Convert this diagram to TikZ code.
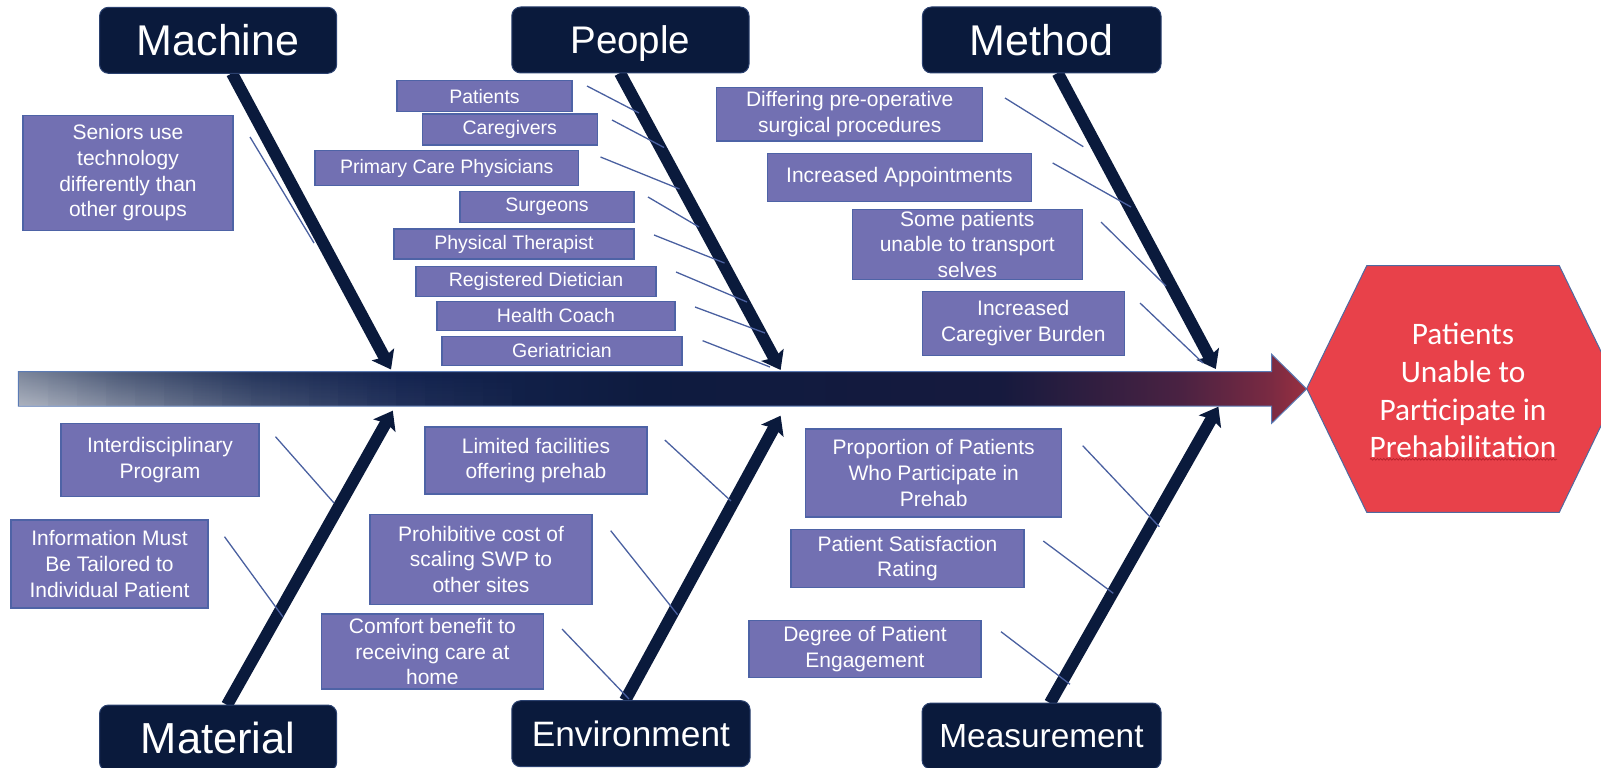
\documentclass[tikz,border=0pt]{standalone}
\usepackage{fontspec}
\setmainfont{Liberation Sans}
\newfontfamily\effectfont{Carlito}
\usetikzlibrary{arrows.meta,fadings,decorations.pathmorphing}

\definecolor{catnavy}{HTML}{0A1A3C}
\definecolor{catedge}{HTML}{2B416F}
\definecolor{causefill}{HTML}{7270B2}
\definecolor{causeedge}{HTML}{4E63A6}
\definecolor{twigblue}{HTML}{4A60A0}
\definecolor{effectred}{HTML}{E8414A}
\definecolor{effectedge}{HTML}{4F6AA0}
\definecolor{squiggle}{HTML}{B8222C}
\definecolor{spineedge}{HTML}{5B7BB5}
% spine colours, left to right
\definecolor{spA}{HTML}{7D879B}
\definecolor{spB}{HTML}{4D5A78}
\definecolor{spC}{HTML}{26365C}
\definecolor{spD}{HTML}{142450}
\definecolor{spE}{HTML}{0E1B3F}
\definecolor{spF}{HTML}{161A3E}
\definecolor{spG}{HTML}{4A2242}
\definecolor{spH}{HTML}{7A2A42}
\definecolor{spI}{HTML}{9A3040}

% the bounding box of a shaded path is mapped onto 25bp..75bp
\pgfdeclarehorizontalshading{spineshade}{100bp}{%
  color(0bp)=(spA); color(25bp)=(spA); color(28.9bp)=(spB);
  color(34bp)=(spC); color(39.8bp)=(spD); color(49.5bp)=(spE);
  color(63.1bp)=(spF); color(70.1bp)=(spG); color(73.6bp)=(spH);
  color(75bp)=(spI); color(100bp)=(spI)}

\begin{document}
\begin{tikzpicture}[x=1pt,y=-1pt,
  catbox/.style={rectangle, rounded corners=9pt, fill=catnavy, draw=catedge,
    line width=1pt, text=white, inner sep=0pt},
  causebox/.style={rectangle, fill=causefill, draw=causeedge, line width=1.1pt,
    text=white, align=center, inner sep=0pt,
    font=\fontsize{21}{25.7}\selectfont},
  peoplebox/.style={causebox, font=\fontsize{19.5}{24}\selectfont},
  catarrow/.style={draw=catnavy, line width=12pt,
    -{Stealth[length=17pt,width=25pt,inset=3pt]}},
  twig/.style={draw=twigblue, line width=1.3pt},
]
\clip (0,0) rectangle (1601,768);

% ---- main spine (shaded arrow into the effect) ----
\shadedraw[shading=spineshade, draw=spineedge, line width=1pt]
  (18.4,371.7) -- (1271.7,371.7) -- (1271.7,354.3) -- (1306.7,389)
  -- (1271.7,423.3) -- (1271.7,406.2) -- (18.4,406.2) -- cycle;
% lighter upper half towards the tail
\foreach \xa/\op in {18.9/0.36, 47.9/0.32, 76.9/0.29, 105.9/0.26, 134.9/0.23,
    163.9/0.2, 192.9/0.18, 221.9/0.16, 250.9/0.14, 279.9/0.12, 308.9/0.1,
    337.9/0.085, 366.9/0.07, 395.9/0.055, 424.9/0.04, 453.9/0.03, 482.9/0.02}
  \fill[white, fill opacity=\op, path fading=north] (\xa,372.2) rectangle ++(29,33.5);

% ---- category bones ----
\coordinate (machineS) at (232,73.3);   \coordinate (machineT) at (391,369.5);
\coordinate (peopleS) at (620,73);      \coordinate (peopleT) at (780.6,370);
\coordinate (methodS) at (1057.7,73);   \coordinate (methodT) at (1215.8,369);
\coordinate (materialS) at (227,705);   \coordinate (materialT) at (392.8,410.7);
\coordinate (environmentS) at (625,700.7); \coordinate (environmentT) at (780.6,415.7);
\coordinate (measurementS) at (1050,703);  \coordinate (measurementT) at (1218.4,406.7);
\foreach \b in {machine,people,method,material,environment,measurement}
  \draw[catarrow] (\b S) -- (\b T);

% ---- small bones for each cause ----
\foreach \n/\ax/\ay/\bx/\by in {
  seniors/250/137/314/243,
  patients/587/86/639/113,
  caregivers/612/120/664/147.5,
  pcp/600.5/157/679.5/189,
  surgeons/648/197/699/227,
  pt/654/235/724.5/263,
  rd/676/272/747/302,
  hc/695/307/765/333,
  ger/702.6/340.7/770/367,
  differing/1005/98/1083.3/146.7,
  appts/1052.7/163/1131/207,
  transport/1101/222/1166/286,
  burden/1140/303/1203/363,
  interdisc/275.5/436.7/334/503,
  info/224.5/536.7/283/617,
  limited/664.8/440/731/501,
  cost/610.7/530.7/677.6/614.7,
  comfort/562/629/629/699,
  proportion/1082.7/445.7/1159.3/526.7,
  satisfaction/1043.3/541/1113.3/593.3,
  degree/1001/631.7/1070/684.3}
{
  \coordinate (\n-a) at (\ax,\ay);
  \coordinate (\n-b) at (\bx,\by);
  \draw[twig] (\n-a) -- (\n-b);
}

% ---- category headers ----
\node[catbox, minimum width=237.2pt, minimum height=66pt,
  font=\fontsize{43}{50}\selectfont, text height=30.8pt, text depth=0pt]
  (machine) at (218.1,40.3) {Machine};
\node[catbox, minimum width=237.3pt, minimum height=66pt,
  font=\fontsize{38.5}{45}\selectfont, text height=27.6pt, text depth=0pt]
  (people) at (630.4,40) {People};
\node[catbox, minimum width=238.6pt, minimum height=66pt,
  font=\fontsize{43}{50}\selectfont, text height=30.8pt, text depth=0pt]
  (method) at (1041.7,40) {Method};
\node[catbox, minimum width=237.2pt, minimum height=66pt,
  font=\fontsize{43.4}{50}\selectfont, text height=31.1pt, text depth=0pt]
  (material) at (218.1,738) {Material};
\node[catbox, minimum width=238.3pt, minimum height=66pt,
  font=\fontsize{35.3}{42}\selectfont, text height=25.3pt, text depth=0pt]
  (environment) at (630.9,733.7) {Environment};
\node[catbox, minimum width=239pt, minimum height=66pt,
  font=\fontsize{33.4}{40}\selectfont, text height=23.9pt, text depth=0pt]
  (measurement) at (1041.5,736) {Measurement};

% ---- causes: Machine ----
\node[causebox, minimum width=210pt, minimum height=114.3pt] (seniors) at (128,172.9)
  {Seniors use\\technology\\differently than\\other groups};

% ---- causes: People ----
\node[peoplebox, minimum width=175pt, minimum height=31pt] (patients) at (484.5,96.2) {Patients};
\node[peoplebox, minimum width=175.5pt, minimum height=31pt] (caregivers) at (509.8,129.5) {Caregivers};
\node[peoplebox, minimum width=263.6pt, minimum height=35pt] (pcp) at (446.8,168.2) {Primary Care Physicians};
\node[peoplebox, minimum width=174pt, minimum height=30.6pt] (surgeons) at (547,207) {Surgeons};
\node[peoplebox, minimum width=240pt, minimum height=30pt] (pt) at (514,244) {Physical Therapist};
\node[peoplebox, minimum width=240pt, minimum height=30.7pt] (rd) at (536,281.4) {Registered Dietician};
\node[peoplebox, minimum width=238pt, minimum height=29.7pt] (hc) at (556,315.9) {Health Coach};
\node[peoplebox, minimum width=240pt, minimum height=29.7pt] (ger) at (562,350.9) {Geriatrician};

% ---- causes: Method ----
\node[causebox, minimum width=266pt, minimum height=53.5pt] (differing) at (849.7,114.2)
  {Differing pre-operative\\surgical procedures};
\node[causebox, minimum width=263.3pt, minimum height=48.4pt] (appts) at (899.4,177.5)
  {Increased Appointments};
\node[causebox, minimum width=230pt, minimum height=70.3pt] (transport) at (967.3,244.2)
  {Some patients\\unable to transport\\selves};
\node[causebox, minimum width=202pt, minimum height=63.3pt] (burden) at (1023.3,323.4)
  {Increased\\Caregiver Burden};

% ---- causes: Material ----
\node[causebox, minimum width=198pt, minimum height=73.7pt] (interdisc) at (160,459.9)
  {Interdisciplinary\\Program};
\node[causebox, minimum width=197pt, minimum height=88pt] (info) at (109.5,564)
  {Information Must\\Be Tailored to\\Individual Patient};

% ---- causes: Environment ----
\node[causebox, minimum width=222pt, minimum height=67pt] (limited) at (536,460.5)
  {Limited facilities\\offering prehab};
\node[causebox, minimum width=222pt, minimum height=90.7pt] (cost) at (481,559.4)
  {Prohibitive cost of\\scaling SWP to\\other sites};
\node[causebox, minimum width=222pt, minimum height=75pt] (comfort) at (432.4,651.5)
  {Comfort benefit to\\receiving care at\\home};

% ---- causes: Measurement ----
\node[causebox, minimum width=256pt, minimum height=88pt] (proportion) at (933.7,473)
  {Proportion of Patients\\Who Participate in\\Prehab};
\node[causebox, minimum width=233pt, minimum height=57.6pt] (satisfaction) at (907.5,558.5)
  {Patient Satisfaction\\Rating};
\node[causebox, minimum width=232pt, minimum height=57pt] (degree) at (865,649.2)
  {Degree of Patient\\Engagement};

% ---- effect ----
\filldraw[fill=effectred, draw=effectedge, line width=1pt]
  (1306.7,388.5) -- (1366.7,265.7) -- (1559.3,265.7) -- (1619,388.5)
  -- (1559.3,512.3) -- (1366.7,512.3) -- cycle;
\node[text=white, align=center, inner sep=0pt,
  font=\effectfont\fontsize{31.3}{37.6}\selectfont] (effect) at (1463,390.5)
  {Patients\\Unable to\\Participate in\\Prehabilitation};
\coordinate (sqA) at (1370,459.3);
\coordinate (sqB) at (1557,459.3);
\draw[draw=squiggle, line width=0.7pt, decorate,
  decoration={snake, segment length=3.2pt, amplitude=0.9pt}] (sqA) -- (sqB);
\end{tikzpicture}
\end{document}
